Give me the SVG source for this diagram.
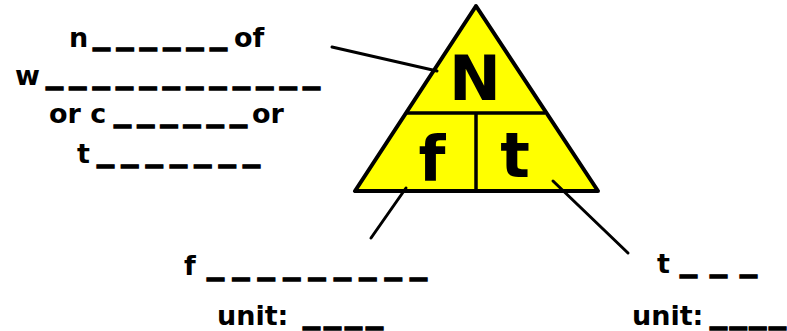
<svg xmlns="http://www.w3.org/2000/svg" width="787" height="331" viewBox="0 0 787 331">
<style>
.t{font-family:"DejaVu Sans","Liberation Sans",sans-serif;font-weight:bold;font-size:27px;fill:#000}
.u{font-family:"DejaVu Sans","Liberation Sans",sans-serif;font-weight:bold;font-size:34px;fill:#000;stroke:#000;stroke-width:1.4}
.big{font-family:"DejaVu Sans","Liberation Sans",sans-serif;font-weight:bold;font-size:62px;fill:#000;text-anchor:middle}
.edge{stroke:#000;stroke-width:3;fill:none;stroke-linecap:round}
.div{stroke:#000;stroke-width:3.5;fill:none}
</style>
<rect width="787" height="331" fill="#fff"/>
<g id="triangle">
  <polygon points="476,6 355,191 598,191" fill="#ffff00" stroke="#000" stroke-width="4" stroke-linejoin="round"/>
  <line class="div" x1="407" y1="113" x2="545" y2="113"/>
  <line class="div" x1="476" y1="113" x2="476" y2="191"/>
  <text class="big" x="475" y="100">N</text>
  <text class="big" x="432" y="180">f</text>
  <text class="big" x="515" y="177">t</text>
</g>
<g id="connectors">
  <line class="edge" x1="332" y1="47" x2="437" y2="71"/>
  <line class="edge" x1="371" y1="238" x2="406" y2="188"/>
  <line class="edge" x1="553" y1="181" x2="628" y2="253"/>
</g>
<g id="label-N">
  <text class="t" x="69" y="47">n</text>
  <text class="u" x="93" y="43" textLength="134" lengthAdjust="spacing">______</text>
  <text class="t" x="234" y="47">of</text>
  <text class="t" x="15" y="85">w</text>
  <text class="u" x="46" y="82" textLength="274" lengthAdjust="spacing">____________</text>
  <text class="t" x="49" y="123">or c</text>
  <text class="u" x="114" y="120" textLength="133" lengthAdjust="spacing">______</text>
  <text class="t" x="252" y="123">or</text>
  <text class="t" x="77" y="163">t</text>
  <text class="u" x="97" y="160" textLength="163" lengthAdjust="spacing">_______</text>
</g>
<g id="label-f">
  <text class="t" x="184" y="275">f</text>
  <text class="u" x="207" y="273" textLength="220" lengthAdjust="spacing">_________</text>
  <text class="t" x="217" y="325">unit:</text>
  <text class="u" x="303" y="322" textLength="80" lengthAdjust="spacing">____</text>
</g>
<g id="label-t">
  <text class="t" x="657" y="273">t</text>
  <text class="u" x="680" y="270" textLength="77" lengthAdjust="spacing">___</text>
  <text class="t" x="632" y="325">unit:</text>
  <text class="u" x="710" y="322" textLength="76" lengthAdjust="spacing">____</text>
</g>
</svg>
